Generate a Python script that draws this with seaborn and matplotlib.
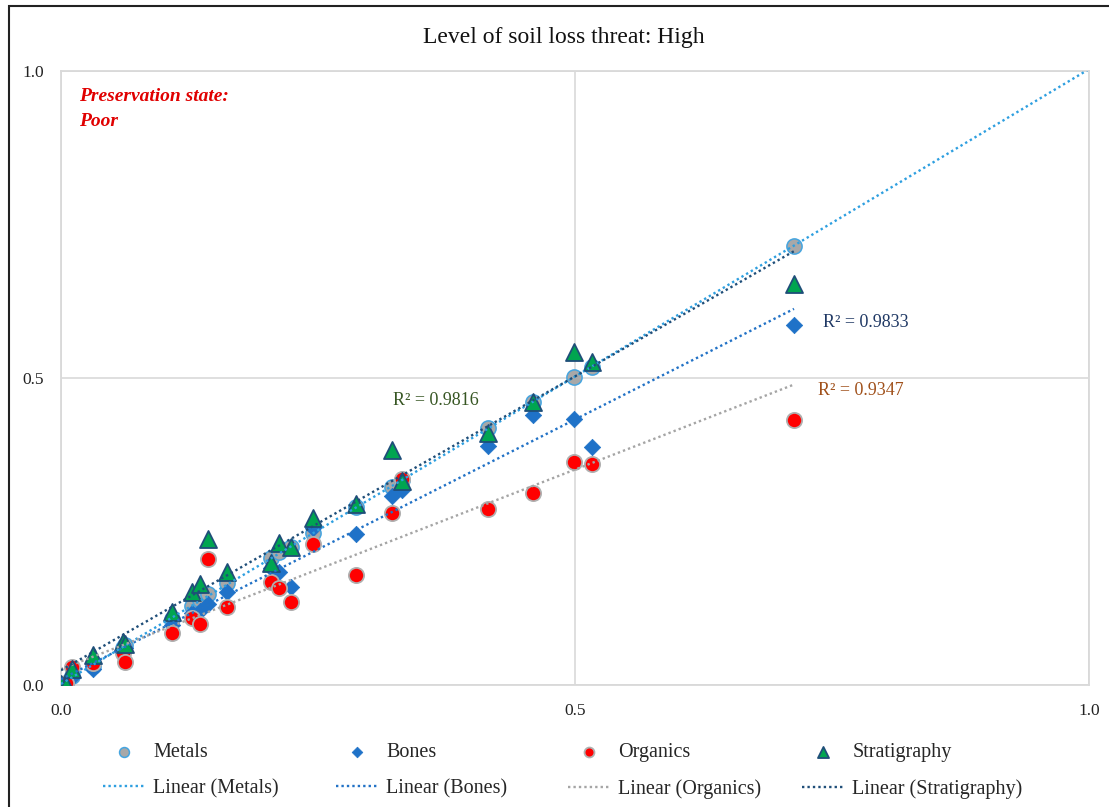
import numpy as np
import pandas as pd
import matplotlib
matplotlib.use("Agg")
import matplotlib.pyplot as plt
import seaborn as sns
from matplotlib.patches import Rectangle

# valores (eixo x comum as quatro series)
x_vals = [0.000, 0.005, 0.011, 0.031, 0.060, 0.062, 0.108, 0.127, 0.135, 0.143, 0.161, 0.204,
          0.212, 0.224, 0.245, 0.287, 0.322, 0.332, 0.415, 0.459, 0.499, 0.517, 0.713]
metals = [0.000, 0.004, 0.014, 0.031, 0.060, 0.065, 0.108, 0.128, 0.138, 0.148, 0.166, 0.207,
          0.216, 0.225, 0.248, 0.290, 0.323, 0.334, 0.418, 0.461, 0.501, 0.518, 0.715]
bones = [0.000, 0.003, 0.013, 0.026, 0.055, 0.060, 0.098, 0.118, 0.121, 0.132, 0.152, 0.190,
         0.184, 0.160, 0.256, 0.246, 0.308, 0.318, 0.389, 0.440, 0.433, 0.388, 0.586]
organics = [0.000, 0.004, 0.029, 0.036, 0.052, 0.037, 0.085, 0.109, 0.099, 0.205, 0.127, 0.168,
            0.158, 0.135, 0.230, 0.179, 0.280, 0.335, 0.286, 0.312, 0.363, 0.360, 0.432]
stratigraphy = [0.002, 0.000, 0.026, 0.049, 0.070, 0.066, 0.119, 0.151, 0.164, 0.238, 0.184, 0.199,
                0.231, 0.225, 0.272, 0.295, 0.383, 0.332, 0.410, 0.461, 0.542, 0.526, 0.653]

series_names = ["Metals", "Bones", "Organics", "Stratigraphy"]
r2_labels = ["R² = 0.9833", "R² = 0.9347", "R² = 0.9816"]

sns.set_theme(style="white")
plt.rcParams['font.family'] = ['Liberation Serif', 'DejaVu Serif']

fig = plt.figure(figsize=(11.09, 8.07), dpi=100)
ax = fig.add_axes([0.0550, 0.1512, 0.9270, 0.7608])
ax.set_xlim(0, 1)
ax.set_ylim(0, 1)

# estilo de cada serie (marcador + linha de tendencia)
estilos = {
    "Metals": dict(marker='o', s=120, color='#A8A8A8', edgecolor='#45A5E0', linewidth=1.1),
    "Bones": dict(marker='D', s=70, color='#1F72C8', edgecolor='#1F72C8', linewidth=0.5),
    "Organics": dict(marker='o', s=120, color='#FF0000', edgecolor='#B0B0B0', linewidth=1.3),
    "Stratigraphy": dict(marker='^', s=150, color='#00A550', edgecolor='#1F4E79', linewidth=1.3),
}
cores_linha = {"Metals": '#2E9FE0', "Bones": '#2272C6', "Organics": '#A5A5A5',
               "Stratigraphy": '#1F4E79'}

dados = {"Metals": metals, "Bones": bones, "Organics": organics, "Stratigraphy": stratigraphy}

for nome in series_names:
    y = dados[nome]
    sns.scatterplot(x=x_vals, y=y, ax=ax, label=nome, zorder=3, **estilos[nome])
    sns.regplot(x=x_vals, y=y, ax=ax, scatter=False, ci=None,
                truncate=(nome != "Metals"), label=f"Linear ({nome})",
                line_kws=dict(color=cores_linha[nome], lw=1.7, ls=(0, (1, 1.3)), zorder=4))

ax.set_xlim(0, 1)
ax.set_ylim(0, 1)
ax.set_xticks([0, 0.5, 1.0])
ax.set_yticks([0, 0.5, 1.0])
ax.set_xticklabels(["0.0", "0.5", "1.0"])
ax.set_yticklabels(["0.0", "0.5", "1.0"])
ax.tick_params(length=0, labelsize=12.5, colors='#222222')
ax.tick_params(axis='x', pad=13)
ax.tick_params(axis='y', pad=12)
ax.grid(True, color='#D9D9D9', lw=1.2)
ax.set_axisbelow(True)
for sp in ax.spines.values():
    sp.set_color('#D9D9D9')
    sp.set_linewidth(1.3)
ax.set_xlabel("")
ax.set_ylabel("")

# rotulos de R²
ax.text(0.741, 0.590, r2_labels[0], color='#1F3864', fontsize=13, va='center', ha='left')
ax.text(0.736, 0.480, r2_labels[1], color='#A0501A', fontsize=13, va='center', ha='left')
ax.text(0.323, 0.463, r2_labels[2], color='#375623', fontsize=13, va='center', ha='left')

ax.text(0.0175, 0.959, "Preservation state:", transform=ax.transAxes, color='#E00000',
        fontsize=14, fontweight='bold', fontstyle='italic', va='center', ha='left')
ax.text(0.0175, 0.918, "Poor", transform=ax.transAxes, color='#E00000',
        fontsize=14, fontweight='bold', fontstyle='italic', va='center', ha='left')

fig.text(0.5086, 0.953, "Level of soil loss threat: High", fontsize=17, ha='center',
         va='center', color='#111111')

# legenda em 4 colunas igualmente espacadas (como no Excel)
if ax.legend_:
    ax.legend_.remove()
handles, labels = ax.get_legend_handles_labels()
col_x = [103 / 1109, 336 / 1109, 568 / 1109, 802 / 1109]
for i, cx in enumerate(col_x):
    fig.legend(handles[2 * i:2 * i + 2], labels[2 * i:2 * i + 2], loc='upper left',
               bbox_to_anchor=(cx, 0.0793), frameon=False, borderpad=0, borderaxespad=0,
               handlelength=2.1, handletextpad=0.4, labelspacing=0.85, fontsize=14.5,
               markerscale=0.65, scatterpoints=1)

# moldura da figura (so aparecem topo e esquerda)
fig.add_artist(Rectangle((9 / 1109, -0.1), 1.2, 1.1 - 6 / 807, transform=fig.transFigure,
                         fill=False, ec='#222222', lw=1.5, clip_on=False))

plt.savefig("out.png", dpi=100)
